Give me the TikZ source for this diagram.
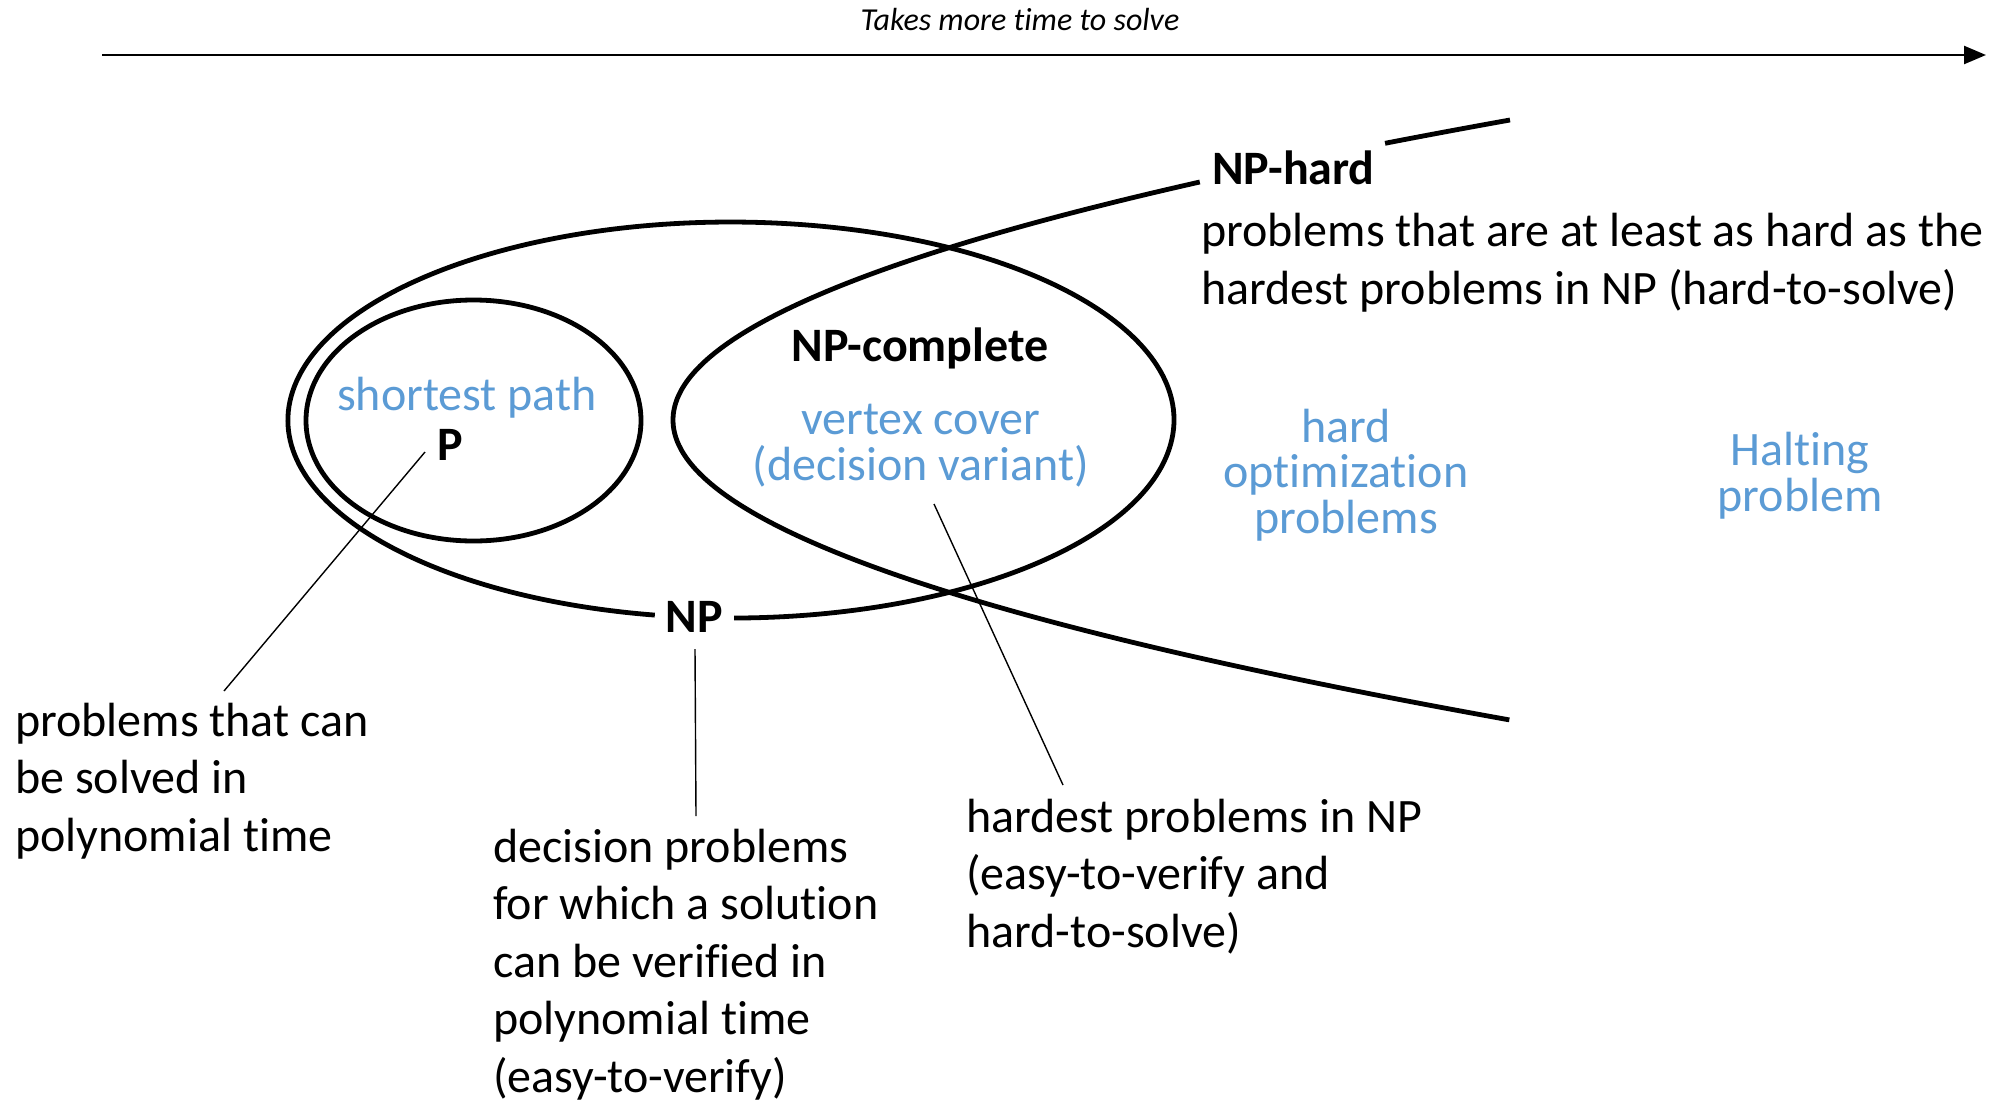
\documentclass[tikz,border=0pt]{standalone}
\usepackage{fontspec}
\setmainfont{Carlito}[Ligatures=NoCommon]
\usetikzlibrary{arrows.meta}
\definecolor{setblue}{HTML}{5B9BD5}

\begin{document}
\begin{tikzpicture}[x=1pt, y=-1pt,
  boundary/.style={line width=4.8pt},
  leader/.style={line width=1.4pt},
  body/.style={font=\fontsize{48}{57.5}\selectfont, inner sep=0pt, align=left},
  example/.style={font=\fontsize{48}{45.5}\selectfont, text=setblue, inner sep=0pt, align=center},
  setname/.style={font=\fontsize{48}{57}\selectfont\bfseries, inner sep=0pt}]

\useasboundingbox[fill=white] (0,0) rectangle (1992,1103);

% time axis
\node[font=\fontsize{32}{38}\selectfont\itshape, anchor=base, inner sep=0pt] (axislabel) at (1020,30) {Takes more time to solve};
\coordinate (axisL) at (102,55);
\coordinate (axisR) at (1986,55);
\draw[line width=2.4pt, -{Triangle[length=22pt,width=18pt]}] (axisL) -- (axisR);

% NP: ellipse with a gap at the bottom for its label
\draw[boundary] (654.8,615.1) arc[start angle=99.9, end angle=449.6, x radius=443, y radius=198];

% P: inside NP
\draw[boundary] (473.5,420.5) ellipse[x radius=167.5, y radius=120.5];

% NP-hard: open parabola, interrupted for its label
\draw[boundary] plot[domain=-3:-2.767, samples=12, smooth, variable=\t] ({673+93*\t*\t},{420+100*\t});
\draw[boundary] plot[domain=-2.38:3, samples=140, smooth, variable=\t] ({673+93*\t*\t},{420+100*\t});

% set names
\node[setname, anchor=base] (Plabel) at (450,460) {P};
\node[setname, anchor=base] (NPlabel) at (694,632) {NP};
\node[setname, anchor=base] (NPClabel) at (920,361) {NP-complete};
\node[setname, anchor=base west] (NPHlabel) at (1212,184) {NP-hard};

% example problems (multi-line nodes are placed by their last baseline)
\node[example, anchor=base] (shortest) at (467,410) {shortest path};
\node[example, anchor=base] (vcover) at (921,480) {vertex cover\\(decision variant)};
\node[example, anchor=base] (hardopt) at (1346,533) {hard\\optimization\\problems};
\node[example, anchor=base] (halting) at (1800,511) {Halting\\problem};

% descriptions
\node[body, anchor=base west] (NPHdesc) at (1201,304) {problems that are at least as hard as the\\hardest problems in NP (hard-to-solve)};
\node[body, anchor=base west] (Pdesc) at (15,851) {problems that can\\be solved in\\polynomial time};
\node[body, anchor=base west] (NPdesc) at (493,1092) {decision problems\\for which a solution\\can be verified in\\polynomial time\\(easy-to-verify)};
\node[body, anchor=base west] (NPCdesc) at (966,947) {hardest problems in NP\\(easy-to-verify and\\hard-to-solve)};

% leader lines
\coordinate (pA) at (425,452);
\coordinate (pB) at (224,691);
\coordinate (npA) at (695,649);
\coordinate (npB) at (696,816);
\coordinate (npcA) at (934,504);
\coordinate (npcB) at (1063,785);
\draw[leader] (pA) -- (pB);
\draw[leader] (npA) -- (npB);
\draw[leader] (npcA) -- (npcB);
\end{tikzpicture}
\end{document}
